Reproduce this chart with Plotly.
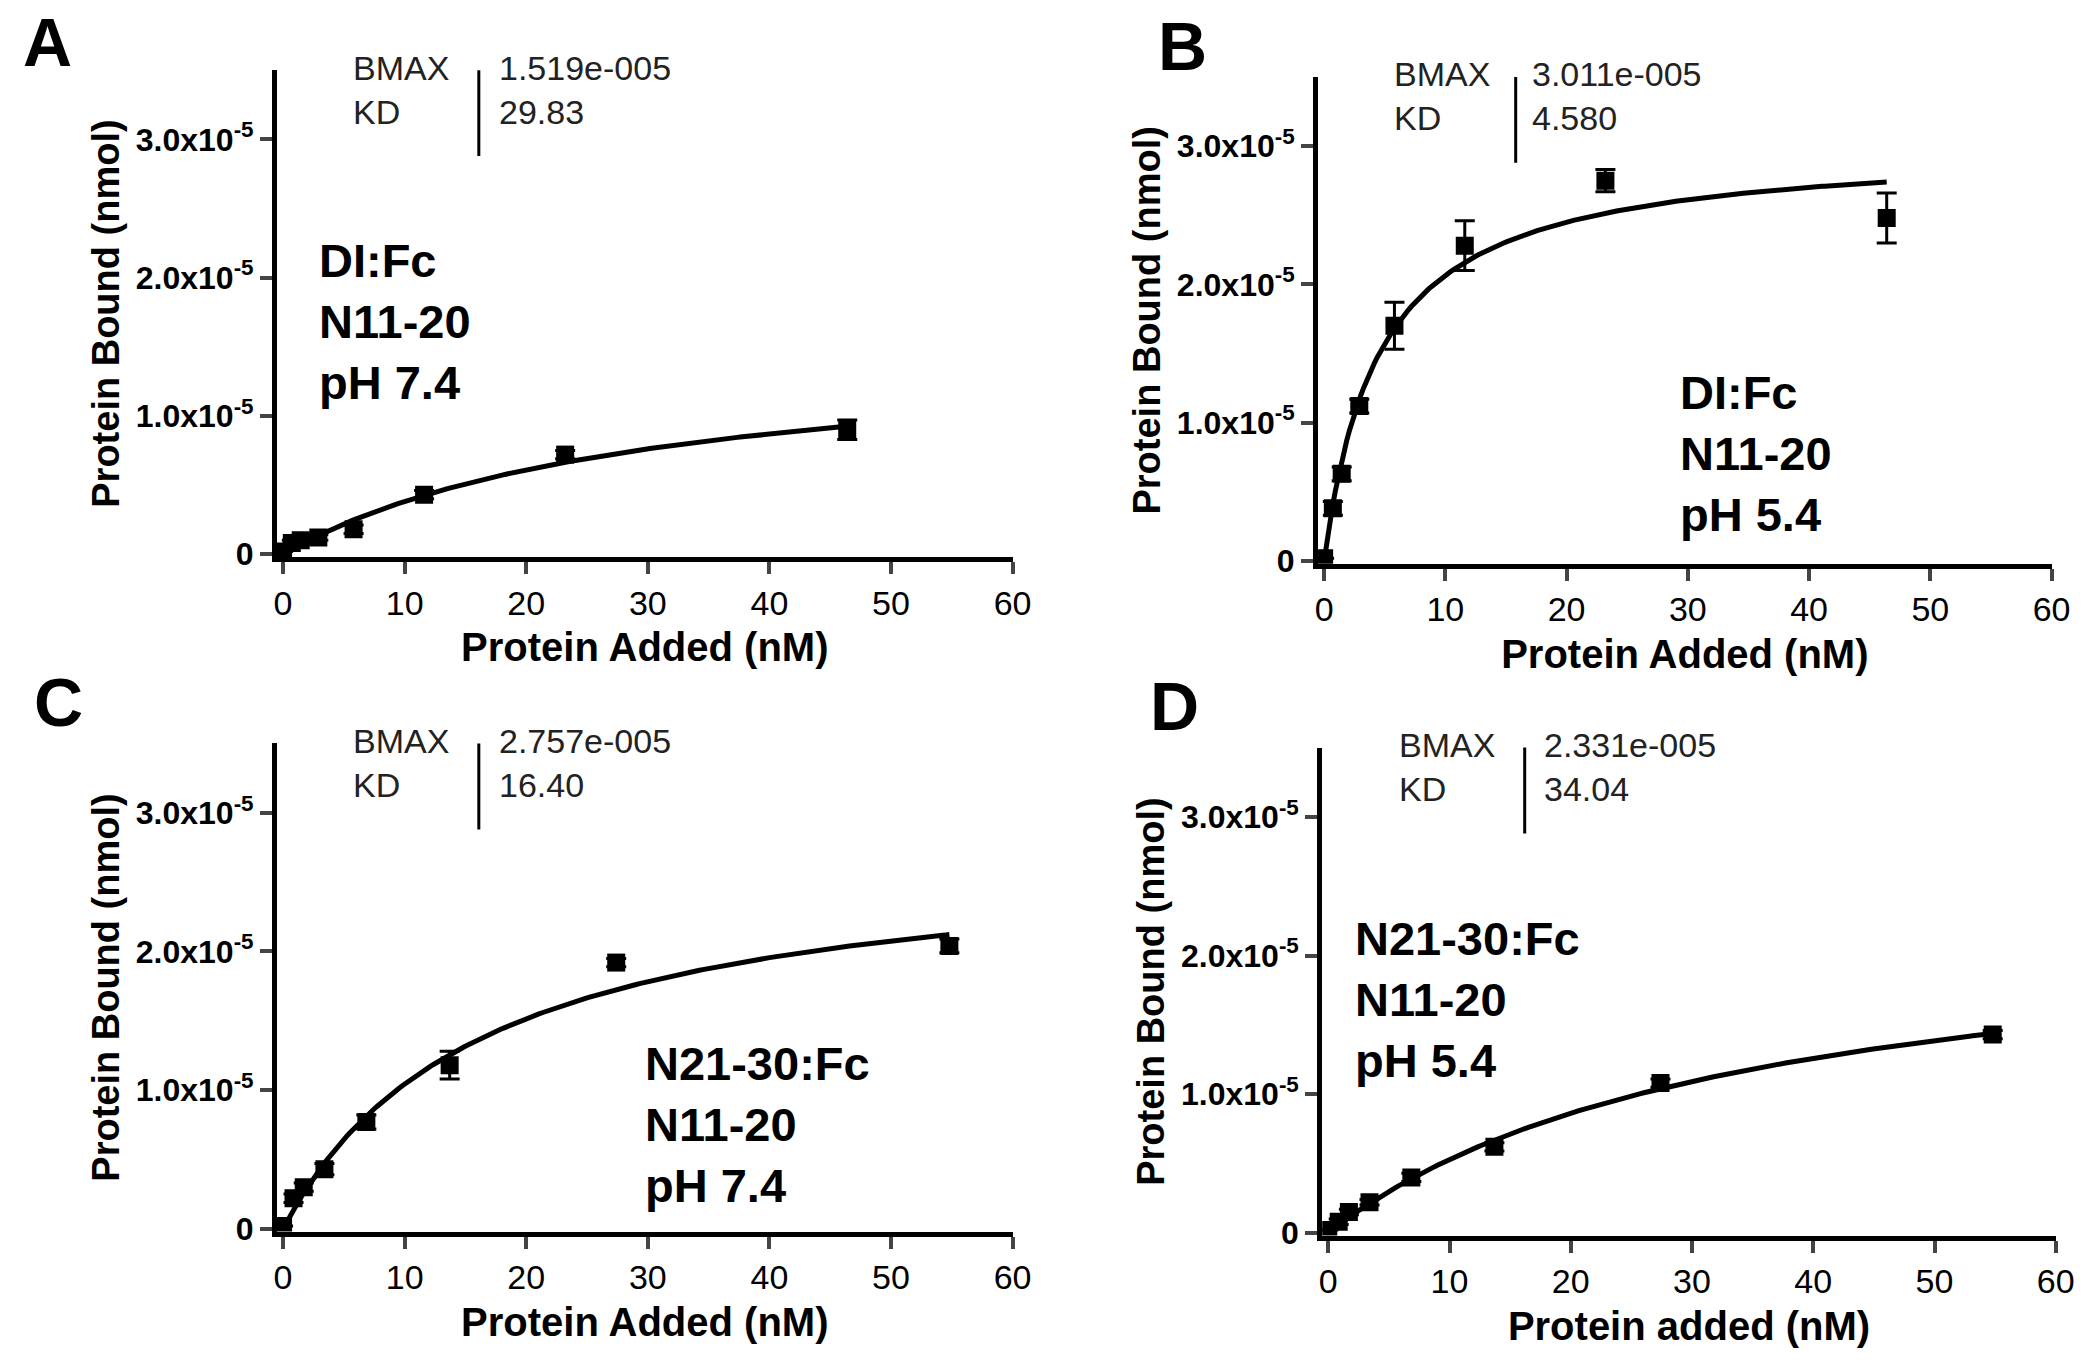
import plotly.graph_objects as go

xA = [0, 0.72, 1.45, 2.9, 5.8, 11.6, 23.2, 46.4]
yA = [0.02, 0.08, 0.10, 0.12, 0.18, 0.43, 0.72, 0.90]
eA = [0, 0.02, 0.02, 0.02, 0.03, 0.03, 0.03, 0.07]
xB = [0, 0.72, 1.45, 2.9, 5.8, 11.6, 23.2, 46.4]
yB = [0.02, 0.38, 0.63, 1.12, 1.70, 2.28, 2.75, 2.48]
eB = [0, 0.05, 0.05, 0.05, 0.17, 0.18, 0.08, 0.18]
xC = [0, 0.86, 1.7, 3.4, 6.85, 13.7, 27.4, 54.8]
yC = [0.02, 0.22, 0.30, 0.43, 0.77, 1.18, 1.92, 2.04]
eC = [0, 0.03, 0.03, 0.04, 0.05, 0.10, 0.03, 0.05]
xD = [0, 0.86, 1.7, 3.4, 6.85, 13.7, 27.4, 54.8]
yD = [0.02, 0.08, 0.15, 0.22, 0.40, 0.62, 1.08, 1.43]
eD = [0, 0.02, 0.02, 0.02, 0.03, 0.03, 0.03, 0.03]
bmax = [1.519e-5, 3.011e-5, 2.757e-5, 2.331e-5]
kd = [29.83, 4.580, 16.40, 34.04]
bmax_txt = ["1.519e-005", "3.011e-005", "2.757e-005", "2.331e-005"]
kd_txt = ["29.83", "4.580", "16.40", "34.04"]
labels = ["DI:Fc<br>N11-20<br>pH 7.4", "DI:Fc<br>N11-20<br>pH 5.4",
          "N21-30:Fc<br>N11-20<br>pH 7.4", "N21-30:Fc<br>N11-20<br>pH 5.4"]
xtitles = ["Protein Added (nM)", "Protein Added (nM)", "Protein Added (nM)", "Protein added (nM)"]
letters = ["A", "B", "C", "D"]

F = "Liberation Sans, Arial"
data = [(xA, yA, eA), (xB, yB, eB), (xC, yC, eC), (xD, yD, eD)]
xdom = [[0.128, 0.482], [0.629, 0.982], [0.128, 0.482], [0.631, 0.984]]
ydom = [[0.594, 0.954], [0.589, 0.949], [0.095, 0.456], [0.092, 0.453]]
textpos = [(2.8, 1.68e-5), (29.2, 0.78e-5), (29.6, 0.75e-5), (2.0, 1.68e-5)]
tblx = [(5.6, 16.1, 17.6), (5.6, 15.8, 17.0), (5.6, 16.1, 17.6), (5.7, 16.2, 17.6)]
letpos = [(0.005, 0.975), (0.551, 0.972), (0.01, 0.487), (0.547, 0.484)]

fig = go.Figure()
ann = []
shapes = []
layout = {}
for i, (x, y, e) in enumerate(data):
    n = "" if i == 0 else str(i + 1)
    xa, ya = "x" + n, "y" + n
    xm = max(x)
    cx = [xm * k / 200 for k in range(201)]
    cy = [bmax[i] * c / (kd[i] + c) for c in cx]
    fig.add_trace(go.Scatter(x=cx, y=cy, mode="lines", line=dict(color="black", width=5),
                             xaxis=xa, yaxis=ya, showlegend=False, hoverinfo="skip"))
    fig.add_trace(go.Scatter(x=x, y=[v * 1e-5 for v in y], mode="markers",
                             marker=dict(symbol="square", size=18, color="black"),
                             error_y=dict(type="data", array=[v * 1e-5 for v in e], color="black",
                                          thickness=3, width=10),
                             xaxis=xa, yaxis=ya, showlegend=False))
    layout["xaxis" + n] = dict(domain=xdom[i], range=[-0.5, 60], anchor=ya,
                               tickvals=[0, 10, 20, 30, 40, 50, 60], showline=True, linecolor="black",
                               linewidth=5, ticks="outside", ticklen=12, tickwidth=4,
                               showgrid=False, zeroline=False,
                               tickfont=dict(family=F, size=34, color="black"),
                               title=dict(text="<b>" + xtitles[i] + "</b>", font=dict(family=F, size=40, color="black"), standoff=14))
    layout["yaxis" + n] = dict(domain=ydom[i], range=[-0.02e-5, 3.5e-5], anchor=xa,
                               tickvals=[0, 1e-5, 2e-5, 3e-5],
                               ticktext=["<b>0</b>", "<b>1.0x10<sup>-5</sup></b>", "<b>2.0x10<sup>-5</sup></b>", "<b>3.0x10<sup>-5</sup></b>"],
                               showline=True, linecolor="black", linewidth=5, ticks="outside",
                               ticklen=12, tickwidth=4, showgrid=False, zeroline=False,
                               tickfont=dict(family=F, size=32, color="black"),
                               title=dict(text="<b>Protein Bound (nmol)</b>", font=dict(family=F, size=38, color="black"), standoff=6))
    tx, lx, vx = tblx[i]
    ann.append(dict(x=tx, y=3.36e-5, xref=xa, yref=ya, text="BMAX<br>KD", showarrow=False, xanchor="left",
                    align="left", font=dict(family=F, size=34, color="#222")))
    ann.append(dict(x=vx, y=3.36e-5, xref=xa, yref=ya, text=bmax_txt[i] + "<br>" + kd_txt[i], showarrow=False,
                    xanchor="left", align="left", font=dict(family=F, size=34, color="#222")))
    shapes.append(dict(type="line", xref=xa, yref=ya, x0=lx, x1=lx, y0=2.88e-5, y1=3.52e-5,
                       line=dict(color="black", width=3)))
    px, py = textpos[i]
    ann.append(dict(x=px, y=py, xref=xa, yref=ya, text="<b>" + labels[i] + "</b>", showarrow=False,
                    xanchor="left", align="left", font=dict(family=F, size=47, color="black")))
    lx2, ly2 = letpos[i]
    ann.append(dict(x=lx2, y=ly2, xref="paper", yref="paper", text="<b>" + letters[i] + "</b>", showarrow=False,
                    xanchor="left", yanchor="middle", font=dict(family=F, size=68, color="black")))

fig.update_layout(width=2100, height=1367, margin=dict(l=0, r=0, t=0, b=0),
                  plot_bgcolor="white", paper_bgcolor="white", annotations=ann, shapes=shapes, **layout)
fig.write_html("out.html")
